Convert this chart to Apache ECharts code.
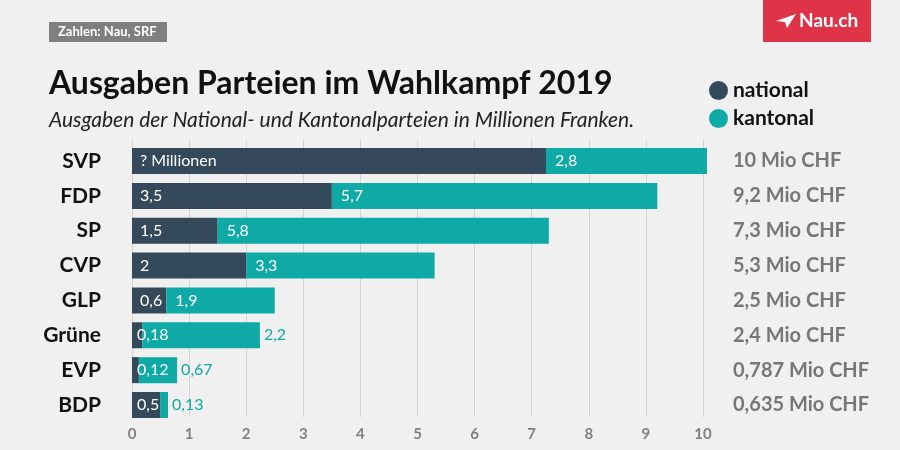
<!DOCTYPE html>
<html><head><meta charset="utf-8">
<script src="https://cdn.jsdelivr.net/npm/echarts@6/dist/echarts.min.js"></script>
<style>html,body{margin:0;padding:0;background:#f0f0f0}#c{width:900px;height:450px}</style>
</head><body><div id="c"></div>
<script>
const categories = ['SVP','FDP','SP','CVP','GLP','Grüne','EVP','BDP'];
const national = [7.25, 3.5, 1.5, 2, 0.6, 0.18, 0.12, 0.5];
const kantonal = [2.82, 5.7, 5.8, 3.3, 1.9, 2.06, 0.67, 0.13];
const nationalLabels = ['? Millionen','3,5','1,5','2','0,6','0,18','0,12','0,5'];
const kantonalLabels = ['2,8','5,7','5,8','3,3','1,9','2,2','0,67','0,13'];
const totals = ['10 Mio CHF','9,2 Mio CHF','7,3 Mio CHF','5,3 Mio CHF','2,5 Mio CHF','2,4 Mio CHF','0,787 Mio CHF','0,635 Mio CHF'];
const xTicks = [0,1,2,3,4,5,6,7,8,9,10];
const outsideKantonal = ['Grüne','EVP','BDP'];

const C_NAT = '#344a5a', C_KAN = '#0fa9a6';
const FONT = 'Lato';

const chart = echarts.init(document.getElementById('c'));
chart.setOption({
  backgroundColor: '#f0f0f0',
  textStyle: {fontFamily: FONT},
  animation: false,
  graphic: [
    {type:'rect', shape:{x:49,y:22,width:118,height:20}, style:{fill:'#7f7f7f'}},
    {type:'text', x:58, y:32, style:{text:'Zahlen: Nau, SRF', fill:'#fff', font:'bold 13px Lato', verticalAlign:'middle'}},
    {type:'text', x:49, y:84, style:{text:'Ausgaben Parteien im Wahlkampf 2019', fill:'#111', font:'bold 32px Lato', verticalAlign:'middle'}},
    {type:'text', x:49, y:120, style:{text:'Ausgaben der National- und Kantonalparteien in Millionen Franken.', fill:'#222', font:'italic 21px Lato', verticalAlign:'middle'}},
    {type:'rect', shape:{x:763,y:0,width:108,height:42}, style:{fill:'#df3348'}},
    {type:'polygon', shape:{points:[[776,21],[796,14],[787,28],[785,22]]}, style:{fill:'#fff'}},
    {type:'text', x:799, y:21, style:{text:'Nau.ch', fill:'#fff', font:'bold 19px Lato', verticalAlign:'middle'}}
  ],
  legend: {
    left: 704, top: 75, orient: 'vertical', itemGap: 7,
    icon: 'circle', itemWidth: 19, itemHeight: 19,
    textStyle: {fontSize: 21, fontWeight: 'bold', color: '#111', fontFamily: FONT},
    data: ['national','kantonal']
  },
  grid: [
    {left: 132, right: 197, top: 143.6, bottom: 27.6},
    {left: 132, right: 197, top: 140, bottom: 33}
  ],
  xAxis: [
    {type: 'value', gridIndex: 0, min: 0, max: 10, interval: 1, show: false},
    {type: 'value', gridIndex: 1, min: 0, max: 10, interval: 1,
     axisLine: {show: false}, axisTick: {show: false},
     splitLine: {lineStyle: {color: '#d4d4d4', width: 1}},
     axisLabel: {color: '#808080', fontSize: 15, fontWeight: 'bold', margin: 10,
       formatter: v => xTicks.includes(v) ? String(v) : ''}}
  ],
  yAxis: [
    {type: 'category', gridIndex: 0, data: categories, inverse: true,
     axisLine: {show: false}, axisTick: {show: false},
     axisLabel: {color: '#111', fontSize: 21, fontWeight: 'bold', margin: 31}},
    {type: 'category', gridIndex: 0, data: totals, inverse: true, position: 'right',
     axisLine: {show: false}, axisTick: {show: false},
     axisLabel: {color: '#777', fontSize: 20, fontWeight: 'bold', margin: 30, align: 'left'}},
    {type: 'category', gridIndex: 1, data: categories, show: false}
  ],
  series: [
    {name: 'national', type: 'bar', stack: 'a', barWidth: 26, xAxisIndex: 0, yAxisIndex: 0, clip: false,
     itemStyle: {color: C_NAT},
     data: national.map((v,i) => ({value: v, label: {formatter: nationalLabels[i],
        distance: outsideKantonal.includes(categories[i]) ? 5 : 8}})),
     label: {show: true, position: 'insideLeft', color: '#fff', fontSize: 16}},
    {name: 'kantonal', type: 'bar', stack: 'a', barWidth: 26, xAxisIndex: 0, yAxisIndex: 0, clip: false,
     itemStyle: {color: C_KAN},
     data: kantonal.map((v,i) => {
       const out = outsideKantonal.includes(categories[i]);
       return {value: v, label: out
         ? {formatter: kantonalLabels[i], position: 'right', color: C_KAN, distance: 4}
         : {formatter: kantonalLabels[i]}};
     }),
     label: {show: true, position: 'insideLeft', distance: 9, color: '#fff', fontSize: 16}}
  ]
});
</script></body></html>
